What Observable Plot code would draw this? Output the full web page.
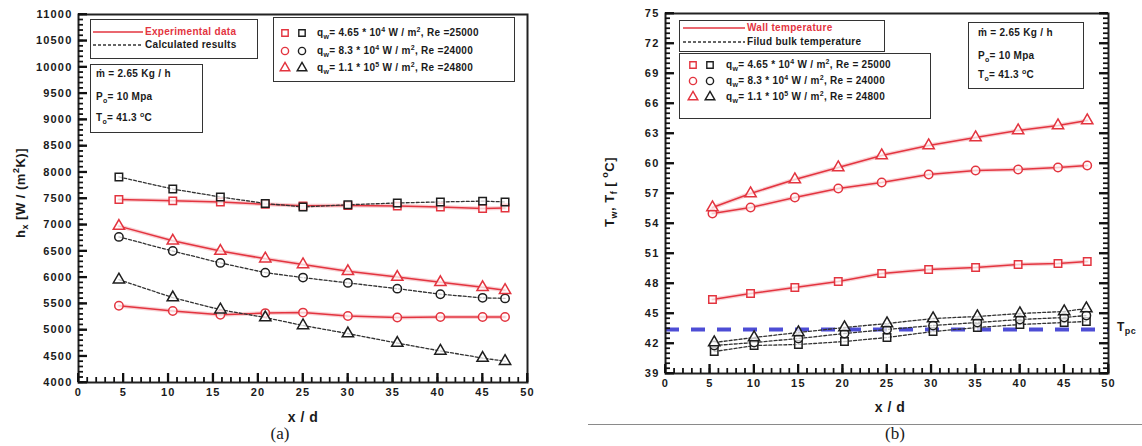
<!DOCTYPE html>
<html><head><meta charset="utf-8">
<script src="https://cdn.jsdelivr.net/npm/d3@7"></script>
<script src="https://cdn.jsdelivr.net/npm/@observablehq/plot@0.6"></script>
<style>
body{margin:0;background:#fff;}
#root{position:relative;width:1142px;height:446px;overflow:hidden;font-family:"Liberation Sans",Arial,sans-serif;color:#1a1a1a;}
.pl{position:absolute;top:0;}
.box{position:absolute;border:1.6px solid #333;background:#fff;box-sizing:border-box;}
.t{position:absolute;font-weight:bold;font-size:10px;white-space:nowrap;line-height:1;transform:translateY(-50%);letter-spacing:0.3px;}
.t sub,.t sup{font-size:7px;line-height:0;}
.lab{position:absolute;font-weight:bold;font-size:13px;white-space:nowrap;line-height:1;letter-spacing:0.5px;}
.lab sub,.lab sup{font-size:9px;line-height:0;}
.cap{position:absolute;font-family:"Liberation Serif","Times New Roman",serif;font-size:17px;transform:translate(-50%,-50%);}
.lg{position:absolute;overflow:visible;}
</style></head>
<body><div id="root"></div>
<script>
// ---------- DATA ----------
// Panel (a): local heat transfer coefficient h_x [W/(m2K)] vs x/d
const xA = [4.5, 10.5, 15.8, 20.8, 25, 30, 35.5, 40.3, 45, 47.5];
const hExpSquare   = [7480, 7455, 7435, 7390, 7360, 7365, 7355, 7340, 7310, 7320];
const hCalcSquare  = [7910, 7680, 7530, 7405, 7340, 7380, 7415, 7435, 7450, 7435];
const hExpCircle   = [5460, 5360, 5290, 5320, 5330, 5265, 5235, 5245, 5245, 5245];
const hCalcCircle  = [6770, 6500, 6275, 6090, 5995, 5895, 5785, 5680, 5610, 5600];
const hExpTriangle = [6975, 6695, 6500, 6355, 6245, 6115, 6005, 5905, 5810, 5755];
const hCalcTriangle= [5955, 5615, 5385, 5235, 5085, 4930, 4750, 4600, 4465, 4405];
const yTicksA = d3.range(4000, 11001, 500);
const yMinorA = d3.range(4000, 11001, 100);
const xTicks = d3.range(0, 51, 5);
const xMinor = d3.range(0, 51, 1);

// Panel (b): wall and bulk temperature [°C] vs x/d
const xWall = [5.3, 9.6, 14.6, 19.5, 24.4, 29.7, 35, 39.8, 44.3, 47.6];
const xBulk = [5.5, 10, 15, 20.2, 25, 30.2, 35.2, 40, 45, 47.5];
const tWallSquare   = [46.4, 47.0, 47.6, 48.2, 49.0, 49.4, 49.6, 49.9, 50.0, 50.2];
const tWallCircle   = [55.0, 55.6, 56.6, 57.5, 58.1, 58.9, 59.3, 59.4, 59.6, 59.8];
const tWallTriangle = [55.6, 57.0, 58.4, 59.6, 60.8, 61.8, 62.6, 63.3, 63.8, 64.3];
const tBulkSquare   = [41.2, 41.8, 41.9, 42.2, 42.6, 43.2, 43.6, 43.9, 44.1, 44.2];
const tBulkCircle   = [41.8, 42.1, 42.5, 43.0, 43.4, 43.8, 44.1, 44.4, 44.6, 44.8];
const tBulkTriangle = [42.1, 42.6, 43.1, 43.6, 44.0, 44.5, 44.7, 45.0, 45.2, 45.5];
const tPc = [43.4];
const yTicksB = d3.range(39, 76, 3);
const yMinorB = d3.range(39, 75.01, 0.5);

const RED = "#e3343f", BLK = "#1e1e1e", BLUE = "#3a3ad0";

function rows(xs, ys, kind, symbol) { return xs.map((x, i) => ({x, y: ys[i], kind, symbol})); }

const seriesA = [
  rows(xA, hExpSquare, "exp", "square"), rows(xA, hCalcSquare, "calc", "square"),
  rows(xA, hExpCircle, "exp", "circle"), rows(xA, hCalcCircle, "calc", "circle"),
  rows(xA, hExpTriangle, "exp", "triangle"), rows(xA, hCalcTriangle, "calc", "triangle")
];
const seriesB = [
  rows(xWall, tWallSquare, "exp", "square"), rows(xWall, tWallCircle, "exp", "circle"),
  rows(xWall, tWallTriangle, "exp", "triangle"),
  rows(xBulk, tBulkSquare, "calc", "square"), rows(xBulk, tBulkCircle, "calc", "circle"),
  rows(xBulk, tBulkTriangle, "calc", "triangle")
];

function seriesMarks(series) {
  const m = [];
  for (const s of series) {
    if (s[0].kind === "exp") {
      m.push(Plot.line(s, {x: "x", y: "y", stroke: "#f3a3aa", strokeWidth: 4, strokeOpacity: 0.5}));
      m.push(Plot.line(s, {x: "x", y: "y", stroke: RED, strokeWidth: 1.5}));
    } else {
      m.push(Plot.line(s, {x: "x", y: "y", stroke: "#333", strokeWidth: 1.3, strokeDasharray: "3,2"}));
    }
  }
  for (const s of series) {
    const c = s[0].kind === "exp" ? RED : BLK;
    m.push(Plot.dot(s, {x: "x", y: "y", symbol: s[0].symbol, r: 4.2, stroke: c, strokeWidth: 1.5, fill: "white", fillOpacity: 0.75}));
  }
  return m;
}

const baseStyle = {fontFamily: "Liberation Sans, Arial, sans-serif", fontSize: "11px", fontWeight: "bold", letterSpacing: "1.2px"};

// Inward ticks as rules; tick lengths given in pixels and converted with the frame size.
const MAJ = 9, MIN = 5;
function tickMarks(cfg, yTicks, yMinor, rightTicks) {
  const [x0, x1] = cfg.x, [y0] = cfg.y;
  const innerW = cfg.width - cfg.marginLeft - cfg.marginRight;
  const innerH = cfg.height - cfg.marginTop - cfg.marginBottom;
  const px = (x1 - x0) / innerW, py = (cfg.y[1] - y0) / innerH;
  const m = [
    Plot.ruleX(xMinor, {x: d => d, y1: y0, y2: y0 + MIN * py, stroke: "#111", strokeWidth: 1.2}),
    Plot.ruleX(xTicks, {x: d => d, y1: y0, y2: y0 + MAJ * py, stroke: "#111", strokeWidth: 1.8}),
    Plot.ruleY(yMinor, {y: d => d, x1: x0, x2: x0 + MIN * px, stroke: "#111", strokeWidth: 1.2}),
    Plot.ruleY(yTicks, {y: d => d, x1: x0, x2: x0 + MAJ * px, stroke: "#111", strokeWidth: 1.8})
  ];
  if (rightTicks) {
    m.push(Plot.ruleY(yMinor, {y: d => d, x1: x1 - MIN * px, x2: x1, stroke: "#111", strokeWidth: 1.2}));
    m.push(Plot.ruleY(yTicks, {y: d => d, x1: x1 - MAJ * px, x2: x1, stroke: "#111", strokeWidth: 1.8}));
  }
  return m;
}
function labelAxes(yTicks) {
  return [
    Plot.axisX({ticks: xTicks, tickSize: 0, tickPadding: 6, tickFormat: d => String(d), label: null}),
    Plot.axisY({ticks: yTicks, tickSize: 0, tickPadding: 6, tickFormat: d => String(d), label: null})
  ];
}

const cfgA = {width: 540, height: 446, marginLeft: 78, marginRight: 13, marginTop: 14, marginBottom: 64, x: [0, 50], y: [4000, 11000]};
const cfgB = {width: 562, height: 446, marginLeft: 85, marginRight: 34, marginTop: 13, marginBottom: 73, x: [0, 50], y: [39, 75]};

const plotA = Plot.plot({
  width: cfgA.width, height: cfgA.height,
  marginLeft: cfgA.marginLeft, marginRight: cfgA.marginRight, marginTop: cfgA.marginTop, marginBottom: cfgA.marginBottom,
  x: {domain: cfgA.x},
  y: {domain: cfgA.y},
  style: baseStyle,
  marks: [
    ...labelAxes(yTicksA),
    ...seriesMarks(seriesA),
    Plot.frame({stroke: "#222", strokeWidth: 2}),
    ...tickMarks(cfgA, yTicksA, yMinorA, false)
  ]
});

const plotB = Plot.plot({
  width: cfgB.width, height: cfgB.height,
  marginLeft: cfgB.marginLeft, marginRight: cfgB.marginRight, marginTop: cfgB.marginTop, marginBottom: cfgB.marginBottom,
  x: {domain: cfgB.x},
  y: {domain: cfgB.y},
  style: baseStyle,
  marks: [
    ...labelAxes(yTicksB),
    Plot.ruleY(tPc, {stroke: BLUE, strokeWidth: 4, strokeDasharray: "14,12", strokeOpacity: 0.9}),
    ...seriesMarks(seriesB),
    Plot.frame({stroke: "#222", strokeWidth: 2}),
    ...tickMarks(cfgB, yTicksB, yMinorB, true)
  ]
});

// Same inward ticks, also placed directly through the plots' own scales (on top of everything)
function overlayTicks(plot, yTicks, yMinor, rightTicks) {
  const sx = plot.scale("x"), sy = plot.scale("y");
  const [left, right] = sx.range, [bottom] = sy.range;
  const g = d3.select(plot).append("g").attr("stroke", "#111");
  const add = (x1, y1, x2, y2, w) => g.append("line").attr("x1", x1).attr("y1", y1).attr("x2", x2).attr("y2", y2).attr("stroke-width", w);
  xMinor.forEach(v => add(sx.apply(v), bottom, sx.apply(v), bottom - MIN, 1.2));
  xTicks.forEach(v => add(sx.apply(v), bottom, sx.apply(v), bottom - MAJ, 1.8));
  yMinor.forEach(v => add(left, sy.apply(v), left + MIN, sy.apply(v), 1.2));
  yTicks.forEach(v => add(left, sy.apply(v), left + MAJ, sy.apply(v), 1.8));
  if (rightTicks) {
    yMinor.forEach(v => add(right, sy.apply(v), right - MIN, sy.apply(v), 1.2));
    yTicks.forEach(v => add(right, sy.apply(v), right - MAJ, sy.apply(v), 1.8));
  }
}
overlayTicks(plotA, yTicksA, yMinorA, false);
overlayTicks(plotB, yTicksB, yMinorB, true);

const root = document.getElementById("root");
plotA.classList.add("pl"); plotA.style.left = "0px";
plotB.classList.add("pl"); plotB.style.left = "580px";
root.append(plotA, plotB);

// ---------- HTML helpers for legends / labels ----------
function el(tag, cls, css, html) {
  const e = document.createElement(tag);
  if (cls) e.className = cls;
  Object.assign(e.style, css || {});
  if (html != null) e.innerHTML = html;
  root.append(e);
  return e;
}
function box(l, t, w, h) { el("div", "box", {left: l + "px", top: t + "px", width: w + "px", height: h + "px"}); }
function text(x, y, html, color) { el("div", "t", {left: x + "px", top: y + "px", color: color || "#1a1a1a"}, html); }
function sym(cx, cy, name, color) {
  const s = {square: d3.symbolSquare, circle: d3.symbolCircle, triangle: d3.symbolTriangle}[name];
  const svg = d3.create("svg").attr("class", "lg").attr("width", 14).attr("height", 14)
    .style("left", (cx - 7) + "px").style("top", (cy - 7) + "px");
  svg.append("path").attr("transform", "translate(7,7)")
    .attr("d", d3.symbol(s, Math.PI * 3.6 * 3.6)()).attr("fill", "white").attr("stroke", color).attr("stroke-width", 1.4);
  root.append(svg.node());
}
function lineSample(x1, x2, y, color, dash) {
  const svg = d3.create("svg").attr("class", "lg").attr("width", x2 - x1).attr("height", 6)
    .style("left", x1 + "px").style("top", (y - 3) + "px");
  svg.append("line").attr("x1", 0).attr("x2", x2 - x1).attr("y1", 3).attr("y2", 3)
    .attr("stroke", color).attr("stroke-width", dash ? 1.3 : 1.6).attr("stroke-dasharray", dash || null);
  root.append(svg.node());
}

const qLabels = [
  "q<sub>w</sub>= 4.65 * 10<sup>4</sup> W / m<sup>2</sup>, Re =25000",
  "q<sub>w</sub>= 8.3 * 10<sup>4</sup> W / m<sup>2</sup>, Re =24000",
  "q<sub>w</sub>= 1.1 * 10<sup>5</sup> W / m<sup>2</sup>, Re =24800"
];
const symbols = ["square", "circle", "triangle"];
const paramLabels = ["m&#775; = 2.65 Kg / h", "P<sub>o</sub>= 10 Mpa", "T<sub>o</sub>= 41.3 <sup>o</sup>C"];

// Panel (a) legends
box(90, 19, 168, 40);
lineSample(93, 143, 32, RED, null); text(145, 32, "Experimental data", RED);
lineSample(93, 143, 45, "#333", "3,2"); text(145, 45, "Calculated results");
box(90, 64, 113, 69);
[74, 97, 118].forEach((y, i) => text(96, y, paramLabels[i]));
box(273, 17, 242, 65);
[33, 51, 68].forEach((y, i) => { sym(285, y, symbols[i], RED); sym(302, y, symbols[i], BLK); text(317, y, qLabels[i]); });

// Panel (b) legends
box(679, 20, 206, 32);
lineSample(683, 745, 28, RED, null); text(747, 28, "Wall temperature", RED);
lineSample(683, 745, 42, "#333", "3,2"); text(747, 42, "Filud bulk temperature");
box(679, 53, 252, 66);
[65, 81, 97].forEach((y, i) => { sym(693, y, symbols[i], RED); sym(710, y, symbols[i], BLK); text(726, y, qLabels[i].replace("=2", "= 2")); });
box(968, 22, 116, 67);
[33, 56, 75].forEach((y, i) => text(978, y, paramLabels[i]));

// Axis labels
el("div", "lab", {left: "20px", top: "193px", transform: "translate(-50%,-50%) rotate(-90deg)"}, "h<sub>x</sub> [W / (m<sup>2</sup>K)]");
el("div", "lab", {left: "609px", top: "192px", transform: "translate(-50%,-50%) rotate(-90deg)"}, "T<sub>w</sub>, T<sub>f</sub> [ <sup>o</sup>C]");
el("div", "lab", {left: "303px", top: "417px", transform: "translate(-50%,-50%)", fontSize: "14px"}, "x / d");
el("div", "lab", {left: "890px", top: "407px", transform: "translate(-50%,-50%)", fontSize: "14px"}, "x / d");
el("div", "lab", {left: "1117px", top: "327px", transform: "translateY(-50%)", fontSize: "12px"}, "T<sub>pc</sub>");

// Captions
el("div", "cap", {left: "280px", top: "434px"}, "(a)");
el("div", "cap", {left: "895px", top: "434px"}, "(b)");
el("div", null, {position: "absolute", left: "588px", top: "424px", width: "554px", height: "0", borderTop: "1.5px solid #8a8a8a"});
</script>
</body></html>
